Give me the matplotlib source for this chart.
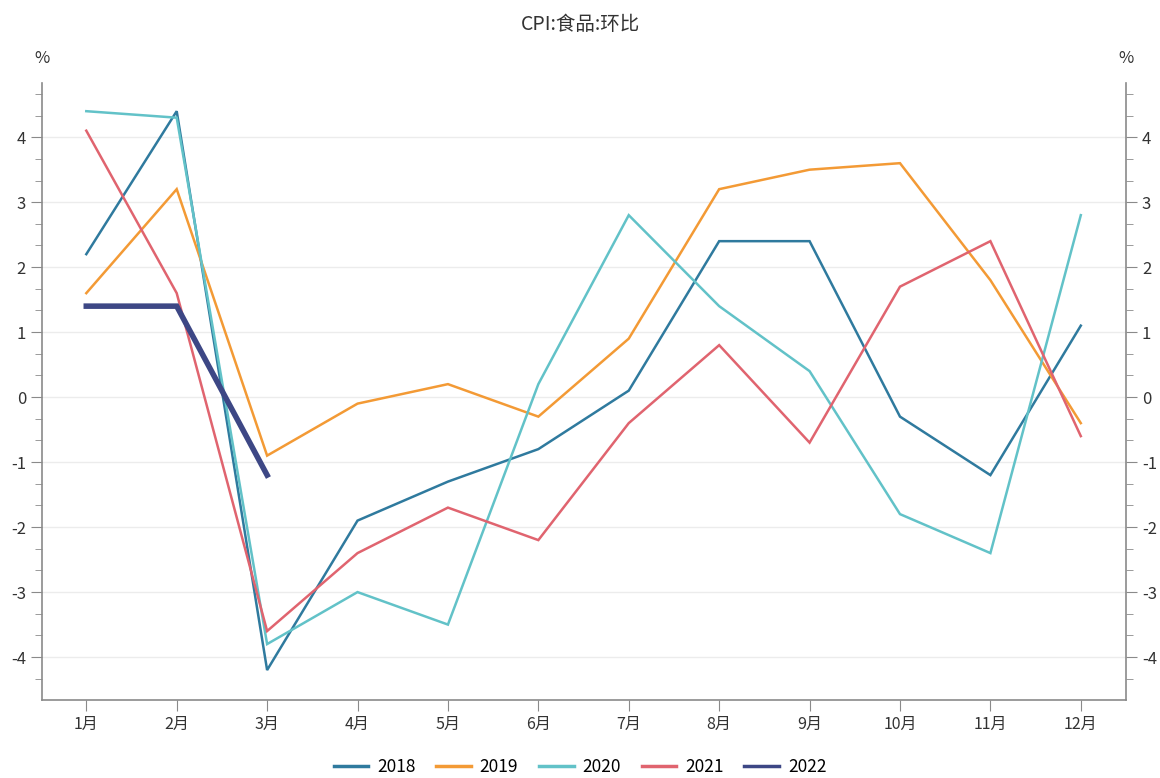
import matplotlib
matplotlib.use("Agg")
import matplotlib.pyplot as plt
from matplotlib.ticker import MultipleLocator

plt.rcParams['font.family'] = ['Noto Sans CJK SC', 'DejaVu Sans']

months = ['1月', '2月', '3月', '4月', '5月', '6月', '7月', '8月', '9月', '10月', '11月', '12月']
s2018 = [2.2, 4.4, -4.2, -1.9, -1.3, -0.8, 0.1, 2.4, 2.4, -0.3, -1.2, 1.1]
s2019 = [1.6, 3.2, -0.9, -0.1, 0.2, -0.3, 0.9, 3.2, 3.5, 3.6, 1.8, -0.4]
s2020 = [4.4, 4.3, -3.8, -3.0, -3.5, 0.2, 2.8, 1.4, 0.4, -1.8, -2.4, 2.8]
s2021 = [4.1, 1.6, -3.6, -2.4, -1.7, -2.2, -0.4, 0.8, -0.7, 1.7, 2.4, -0.6]
s2022 = [1.4, 1.4, -1.2]
yticks = [-4, -3, -2, -1, 0, 1, 2, 3, 4]

series = [
    ('2018', s2018, '#2f7a9e', 1.8),
    ('2019', s2019, '#f39a35', 1.8),
    ('2020', s2020, '#62c2c8', 1.8),
    ('2021', s2021, '#e0646f', 1.8),
    ('2022', s2022, '#3d4785', 4.0),
]

fig = plt.figure(figsize=(11.6, 7.78), dpi=100)
ax = fig.add_axes([0.0362, 0.1003, 0.9345, 0.7927])
x = list(range(1, 13))
for name, vals, col, lw in series:
    ax.plot(x[:len(vals)], vals, color=col, lw=lw, label=name, solid_joinstyle='miter')

ax.set_xlim(0.51, 12.5)
ax.set_ylim(-4.66, 4.83)
ax.set_xticks(x)
ax.set_xticklabels(months)
ax.set_yticks(yticks)
ax.set_yticklabels([str(v) for v in yticks])
ax.yaxis.set_minor_locator(MultipleLocator(1/3))
ax.grid(axis='y', which='major', color='#ececec', lw=1)
ax.set_axisbelow(True)

axis_col = '#8a8a8a'
for sp in ['left', 'right', 'bottom']:
    ax.spines[sp].set_color(axis_col)
    ax.spines[sp].set_linewidth(1.2)
ax.spines['top'].set_visible(False)
ax.tick_params(axis='y', which='both', left=True, right=True, labelleft=True, labelright=True,
               direction='out', color=axis_col, labelsize=12, labelcolor='#333333')
ax.tick_params(axis='y', which='major', length=8)
ax.tick_params(axis='y', which='minor', length=5)
ax.tick_params(axis='x', direction='out', length=8, color=axis_col, labelsize=11.5, labelcolor='#333333')

fig.text(0.0362, 0.925, '%', ha='center', va='center', fontsize=12, color='#333333')
fig.text(0.9707, 0.925, '%', ha='center', va='center', fontsize=12, color='#333333')
fig.text(0.5, 0.968, 'CPI:食品:环比', ha='center', va='center', fontsize=14, color='#333333')

leg = fig.legend(loc='lower center', bbox_to_anchor=(0.5, -0.018), ncol=5, frameon=False,
                 fontsize=12.5, handlelength=2.0, columnspacing=1.2, handletextpad=0.5)
for ln in leg.get_lines():
    ln.set_linewidth(2.5)

fig.savefig('out.png', dpi=100)
